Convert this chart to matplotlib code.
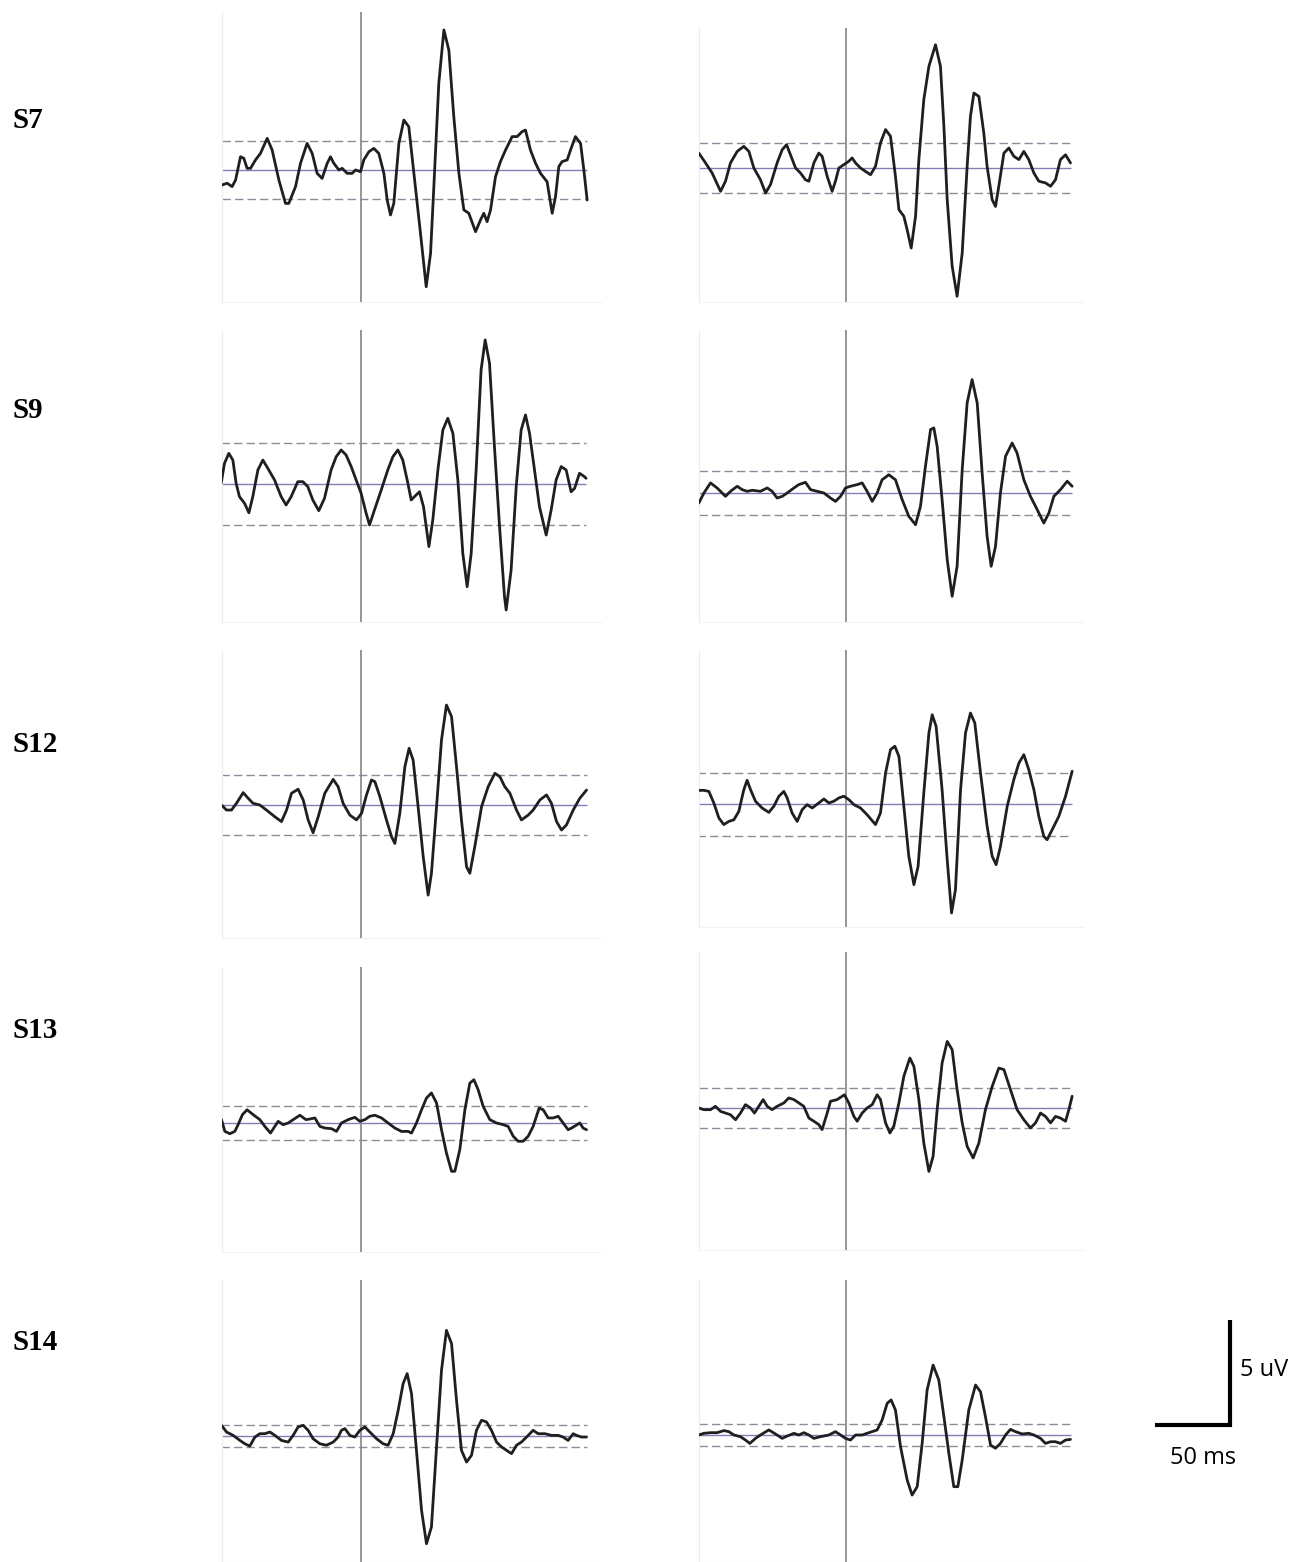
import numpy as np
import matplotlib.pyplot as plt

# --- data: (time ms, amplitude uV) ---
subjects = ["S7", "S9", "S12", "S13", "S14"]

s7_a = [(-92.2, -0.71), (-88.9, -0.63), (-85.6, -0.79), (-83.3, -0.48), (-80, 0.63), (-77.8, 0.56),
        (-75.6, 0.08), (-73.3, 0.08), (-70, 0.48), (-66.7, 0.79), (-62.2, 1.51), (-58.9, 0.95),
        (-54.4, -0.48), (-50, -1.59), (-47.8, -1.59), (-43.3, -0.79), (-40, 0.32), (-35.6, 1.27),
        (-32.2, 0.79), (-28.9, -0.16), (-25.6, -0.40), (-22.2, 0.32), (-20, 0.63), (-17.8, 0.32),
        (-14.4, 0), (-12.2, 0.08), (-8.9, -0.16), (-5.6, -0.16), (-3.3, 0), (0, -0.08), (2.2, 0.48),
        (5.6, 0.87), (8.9, 1.03), (12.2, 0.79), (15.6, -0.16), (17.8, -1.43), (20, -2.14),
        (22.2, -1.59), (25.6, 1.27), (28.9, 2.38), (32.2, 2.06), (35.6, -0.16), (40, -3.02),
        (43.8, -5.56), (46.7, -3.97), (48.9, -0.79), (52.2, 4.13), (55.6, 6.67), (58.9, 5.71),
        (62.2, 2.54), (65.6, -0.16), (68.9, -1.90), (72.2, -2.06), (76.7, -2.94), (80, -2.38),
        (82.2, -2.06), (84.4, -2.46), (86.7, -1.90), (90, -0.32), (93.3, 0.40), (96.7, 0.95),
        (101.1, 1.59), (104.4, 1.59), (107.8, 1.83), (110, 1.90), (113.3, 0.95), (116.7, 0.32),
        (120, -0.16), (124.4, -0.56), (127.8, -2.06), (130, -1.27), (132.2, 0.16), (134.4, 0.40),
        (137.8, 0.48), (140, 0.95), (143.3, 1.59), (146.7, 1.27), (148.9, 0), (151.1, -1.43)]

s7_b = [(-97.8, 0.71), (-93.3, 0.24), (-88.9, -0.24), (-83.3, -1.11), (-80, -0.63), (-76.7, 0.24),
        (-72.2, 0.79), (-67.8, 1.03), (-64.4, 0.79), (-61.1, 0), (-56.7, -0.56), (-53.3, -1.19),
        (-50, -0.79), (-45.6, 0.24), (-42.2, 0.87), (-39.3, 1.11), (-36.7, 0.63), (-33.3, 0),
        (-30, -0.24), (-26.7, -0.56), (-24.4, -0.63), (-21.1, 0.24), (-17.8, 0.71), (-15.6, 0.56),
        (-12.2, -0.40), (-8.9, -1.11), (-6.7, -0.63), (-4.4, 0), (-1.1, 0.16), (2.2, 0.32),
        (4.4, 0.48), (6.7, 0.24), (10, 0), (13.3, -0.16), (16.7, -0.32), (20, 0.08), (23.3, 1.19),
        (26.7, 1.83), (30, 1.51), (33.3, -0.40), (35.6, -1.98), (38.9, -2.30), (41.1, -2.94),
        (43.8, -3.81), (46.7, -2.30), (48.9, 0.40), (52.2, 3.25), (55.6, 4.84), (60, 5.87),
        (63.3, 4.84), (65.6, 1.98), (67.8, -1.51), (71.1, -4.68), (74.4, -6.11), (77.8, -4.05),
        (81.1, 0.08), (83.3, 2.46), (85.6, 3.57), (88.9, 3.41), (92.2, 1.67), (94.4, 0.08),
        (97.8, -1.51), (100, -1.83), (102.2, -0.87), (105.6, 0.71), (108.9, 0.95), (112.2, 0.56),
        (115.6, 0.40), (118.9, 0.79), (122.2, 0.40), (125.6, -0.24), (128.9, -0.63), (133.3, -0.71),
        (136.7, -0.87), (140, -0.56), (143.3, 0.40), (146.7, 0.63), (150, 0.24)]

s9_a = [(-92.9, 0.03), (-90.7, 0.98), (-87.8, 1.46), (-85.1, 1.14), (-82.9, 0.03), (-80.7, -0.60),
        (-77.3, -0.92), (-74.4, -1.37), (-71.8, -0.60), (-68.4, 0.67), (-65.1, 1.14), (-61.8, 0.75),
        (-57.3, 0.19), (-52.9, -0.60), (-49.6, -1.00), (-46.2, -0.60), (-41.8, 0.11), (-38.4, 0.11),
        (-35.1, -0.13), (-31.8, -0.76), (-27.8, -1.27), (-24, -0.68), (-19.6, 0.67), (-16.2, 1.30),
        (-12.9, 1.62), (-9.6, 1.38), (-6.2, 0.83), (-2.9, 0.19), (0.4, -0.44), (3.8, -1.40),
        (6, -1.95), (9.3, -1.24), (13.8, -0.29), (18.2, 0.67), (21.6, 1.30), (24.9, 1.62),
        (28.2, 1.14), (31.6, 0.03), (33.8, -0.76), (36, -0.60), (39.3, -0.37), (42, -1.08),
        (45.6, -2.98), (48.2, -1.71), (51.6, 0.67), (54.9, 2.57), (58.2, 3.13), (61.6, 2.41),
        (64.9, 0.19), (68.2, -3.30), (71.1, -4.89), (73.8, -3.30), (77.1, 0.67), (80.4, 5.43),
        (83.1, 6.86), (86, 5.75), (89.3, 1.78), (92.7, -2.03), (96, -5.37), (97.1, -6.0),
        (100.4, -4.10), (103.8, -0.13), (107.1, 2.57), (110, 3.29), (112.7, 2.41), (116, 0.67),
        (119.3, -1.08), (123.8, -2.43), (127.1, -1.24), (130.4, 0.19), (133.8, 0.83), (137.1, 0.67),
        (140.4, -0.37), (142.7, -0.21), (146, 0.51), (149.3, 0.35), (150.4, 0.27)]

s9_b = [(-97.8, -0.48), (-94.4, 0), (-90, 0.48), (-85.6, 0.24), (-80, -0.16), (-76.7, 0.08),
        (-72.2, 0.32), (-68.9, 0.16), (-65.6, 0.08), (-62.2, 0.13), (-56.7, 0.08), (-52.2, 0.24),
        (-48.9, 0.08), (-45.6, -0.24), (-42.2, -0.16), (-38.9, 0), (-34.4, 0.24), (-31.1, 0.40),
        (-26.7, 0.51), (-23.3, 0.16), (-18.9, 0.08), (-14.4, 0), (-10, -0.24), (-6.7, -0.40),
        (-3.3, -0.16), (0, 0.24), (3.3, 0.32), (7.8, 0.40), (11.1, 0.48), (14.4, 0.08),
        (17.8, -0.40), (21.1, 0), (24.4, 0.63), (28.9, 0.87), (33.3, 0.63), (37.8, -0.32),
        (42.2, -1.11), (46.7, -1.51), (50, -0.63), (53.3, 1.27), (56.7, 3.02), (58.9, 3.10),
        (61.1, 2.22), (64.4, -0.32), (67.8, -3.17), (71.1, -4.92), (74.4, -3.49), (77.8, 1.11),
        (81.1, 4.29), (84.4, 5.40), (87.8, 4.29), (91.1, 0.95), (94.4, -2.06), (97.1, -3.49),
        (100, -2.54), (103.3, 0), (106.7, 1.75), (111.1, 2.38), (114.4, 1.90), (118.9, 0.63),
        (123.3, -0.16), (127.8, -0.79), (132.2, -1.43), (135.6, -0.95), (138.9, -0.16),
        (143.3, 0.16), (147.8, 0.56), (151.1, 0.32)]

s12_a = [(-92.7, 0), (-89.3, -0.24), (-86, -0.24), (-82.7, 0.08), (-78.2, 0.59), (-74.9, 0.32),
         (-71.6, 0.08), (-67.1, 0), (-62.7, -0.24), (-57.1, -0.56), (-52.7, -0.79), (-49.3, -0.24),
         (-46, 0.56), (-41.6, 0.75), (-38.2, 0.24), (-34.9, -0.71), (-31.6, -1.32), (-28.2, -0.56),
         (-23.8, 0.56), (-18.2, 1.22), (-14.9, 0.87), (-11.6, 0.08), (-7.1, -0.48), (-2.7, -0.71),
         (0.7, -0.40), (4, 0.48), (7.3, 1.19), (9.6, 1.11), (12.9, 0.40), (17.3, -0.71),
         (20.7, -1.51), (22.9, -1.83), (26.2, -0.40), (29.6, 1.83), (32.4, 2.70), (35.1, 2.14),
         (38.4, -0.08), (41.8, -2.46), (45.1, -4.29), (47.3, -3.25), (50.7, -0.08), (54, 3.10),
         (57.3, 4.76), (60.7, 4.21), (64, 1.83), (67.3, -0.71), (70.7, -2.94), (72.9, -3.25),
         (76.2, -1.98), (80.7, -0.08), (85.1, 0.87), (89.6, 1.51), (92.9, 1.35), (96.2, 0.87),
         (99.6, 0.56), (104, -0.24), (107.3, -0.71), (111.8, -0.48), (115.1, -0.24), (119.6, 0.24),
         (124, 0.48), (127.3, 0.08), (130.7, -0.79), (134, -1.19), (137.3, -0.95), (141.8, -0.24),
         (146.2, 0.32), (150.7, 0.71)]

s12_b = [(-98.9, 0.65), (-94.4, 0.65), (-91.1, 0.60), (-87.8, 0.05), (-84.4, -0.67), (-81.1, -0.98),
         (-77.8, -0.83), (-74.4, -0.75), (-71.1, -0.35), (-67.8, 0.68), (-65.6, 1.13), (-63.3, 0.68),
         (-60, 0.13), (-55.6, -0.19), (-51.1, -0.40), (-47.8, -0.11), (-44.4, 0.37), (-41.1, 0.60),
         (-38.9, 0.29), (-35.6, -0.43), (-32.2, -0.83), (-28.9, -0.27), (-25.6, -0.03), (-22.2, -0.19),
         (-17.8, 0.05), (-14.4, 0.24), (-11.1, 0.05), (-7.8, 0.13), (-4.4, 0.29), (-1.1, 0.37),
         (2.2, 0.21), (5.6, -0.03), (10, -0.19), (14.4, -0.51), (20, -0.98), (23.3, -0.43),
         (26.7, 1.48), (30, 2.59), (32.9, 2.75), (35.6, 2.27), (38.9, -0.11), (42.2, -2.49),
         (45.6, -3.84), (48.4, -2.97), (52.2, 0.52), (55.6, 3.38), (57.8, 4.25), (60.4, 3.70),
         (64.4, 0.68), (67.8, -2.65), (70.7, -5.19), (73.3, -4.08), (76.7, 0.68), (80, 3.38),
         (83.3, 4.33), (86.2, 3.86), (90, 1.48), (94.4, -1.06), (97.8, -2.49), (100.4, -2.89),
         (103.3, -2.02), (107.8, -0.11), (112.2, 1.16), (115.6, 1.95), (118.9, 2.35), (122.2, 1.63),
         (125.6, 0.68), (128.9, -0.59), (132.2, -1.54), (134.4, -1.70), (137.8, -1.22),
         (142.2, -0.59), (146.7, 0.37), (151.1, 1.56)]

s13_a = [(-92.7, 0.16), (-90.4, -0.40), (-87.1, -0.51), (-83.8, -0.40), (-81.6, -0.08), (-78.7, 0.40),
         (-75.6, 0.63), (-71.6, 0.40), (-67.1, 0.16), (-63.8, -0.16), (-60, -0.48), (-57.1, -0.16),
         (-54.9, 0.08), (-51.6, -0.08), (-48.2, 0), (-44.9, 0.16), (-40.4, 0.37), (-36.4, 0.16),
         (-33.8, 0.19), (-30.4, 0.24), (-27.1, -0.16), (-23.8, -0.24), (-19.3, -0.27), (-16, -0.40),
         (-12.7, 0), (-8.2, 0.16), (-3.8, 0.27), (-0.4, 0.08), (2.9, 0.16), (6.2, 0.32), (9.6, 0.37),
         (14, 0.24), (18.4, 0), (22.9, -0.24), (27.3, -0.40), (31.8, -0.40), (34, -0.48), (37.3, 0),
         (40.7, 0.63), (44, 1.19), (47.3, 1.43), (50.7, 0.95), (54, -0.32), (57.3, -1.43),
         (60.7, -2.30), (62.9, -2.30), (66.2, -1.27), (69.6, 0.63), (72.9, 1.90), (75.6, 2.06),
         (78.4, 1.59), (81.8, 0.79), (86.2, 0.16), (90.7, 0), (95.1, -0.08), (98.4, -0.16),
         (101.8, -0.63), (105.1, -0.87), (108.4, -0.87), (111.8, -0.63), (115.1, -0.16), (119.1, 0.71),
         (121.8, 0.63), (125.1, 0.24), (128.4, 0.24), (131.8, 0.32), (135.1, 0), (138.4, -0.32),
         (140.7, -0.24), (144.4, -0.08), (146.2, 0), (148.4, -0.24), (150.7, -0.32)]

s13_b = [(-97.8, 0), (-94.4, -0.08), (-90, -0.08), (-86.7, 0.08), (-83.3, -0.16), (-80, -0.24),
         (-76.7, -0.32), (-73.3, -0.56), (-70, -0.24), (-66.7, 0.16), (-63.3, 0), (-60.7, -0.24),
         (-57.8, 0.08), (-54.9, 0.40), (-52.2, 0.08), (-48.9, -0.08), (-45.6, 0.08), (-41.1, 0.24),
         (-37.8, 0.48), (-34.4, 0.40), (-31.1, 0.24), (-27.8, 0.08), (-24.4, -0.48), (-21.1, -0.63),
         (-17.8, -0.79), (-15.6, -1.03), (-12.2, -0.24), (-10, 0.32), (-5.6, 0.40), (-2.2, 0.56),
         (-0.7, 0.63), (2.2, 0.24), (5.6, -0.40), (7.8, -0.63), (11.1, -0.24), (14.4, 0), (17.8, 0.16),
         (21.1, 0.63), (23.3, 0.40), (26.7, -0.71), (29.6, -1.19), (32.2, -0.87), (35.6, 0.24),
         (38.9, 1.51), (42.9, 2.38), (45.6, 1.98), (48.9, 0.40), (52.2, -1.67), (55.6, -3.02),
         (58.4, -2.30), (61.1, -0.08), (64.4, 2.14), (67.8, 3.17), (71.1, 2.78), (74.4, 0.87),
         (77.8, -0.71), (81.1, -1.83), (85.1, -2.38), (88.9, -1.67), (93.3, -0.08), (97.8, 1.03),
         (102.2, 1.90), (105.6, 1.83), (110, 0.87), (114.4, -0.08), (118.9, -0.56), (123.3, -0.95),
         (126.7, -0.71), (130, -0.24), (133.3, -0.40), (136.7, -0.71), (140, -0.40), (143.3, -0.48),
         (146.7, -0.63), (148.9, -0.08), (151.1, 0.56)]

s14_a = [(-92.7, 0.51), (-89.3, 0.19), (-84.9, 0.03), (-80.4, -0.21), (-77.1, -0.37), (-73.8, -0.48),
         (-70.4, -0.05), (-67.1, 0.11), (-63.8, 0.11), (-60.4, 0.19), (-57.1, 0.03), (-52.7, -0.21),
         (-48.2, -0.29), (-44.9, 0.03), (-41.6, 0.43), (-38.2, 0.51), (-34.9, 0.27), (-31.6, -0.13),
         (-27.1, -0.37), (-22.7, -0.44), (-18.2, -0.29), (-14.9, -0.05), (-12.7, 0.27), (-10.4, 0.35),
         (-7.1, 0.03), (-3.8, -0.05), (-0.4, 0.27), (2.9, 0.43), (6.2, 0.19), (10.7, -0.13),
         (15.1, -0.37), (18.4, -0.44), (21.8, 0.11), (25.1, 1.22), (28.4, 2.49), (31.1, 2.97),
         (34, 2.02), (37.3, -0.68), (40.7, -3.54), (44, -5.13), (47.3, -4.33), (50.7, -0.52),
         (54, 3.13), (57.3, 5.03), (60.7, 4.40), (64, 1.70), (67.3, -0.68), (70.7, -1.24),
         (74, -0.92), (77.3, 0.27), (80.7, 0.75), (84, 0.67), (87.3, 0.27), (90.7, -0.29),
         (94, -0.52), (97.3, -0.68), (100.7, -0.84), (104, -0.44), (107.3, -0.29), (110.7, -0.05),
         (115.1, 0.27), (118.4, 0.11), (122.9, 0.11), (127.3, 0.03), (131.8, 0.03), (135.1, -0.05),
         (138.4, -0.21), (141.8, 0.11), (144, 0.03), (147.3, -0.05), (150.7, -0.05)]

s14_b = [(-97.8, 0), (-94.4, 0.08), (-90, 0.11), (-85.6, 0.11), (-81.1, 0.21), (-77.8, 0.16),
         (-74.4, 0), (-70, -0.08), (-66.7, -0.24), (-63.8, -0.40), (-60, -0.16), (-55.6, 0.05),
         (-51.1, 0.24), (-46.7, 0.05), (-42.2, -0.16), (-38.9, -0.05), (-34.4, 0.08), (-31.1, 0),
         (-27.8, 0.11), (-24.4, 0), (-21.1, -0.16), (-16.7, -0.08), (-11.1, 0), (-6.7, 0.16),
         (-3.3, 0), (0, -0.16), (3.3, -0.24), (6.7, 0), (11.1, 0), (15.6, 0.11), (21.1, 0.24),
         (24.4, 0.71), (27.8, 1.51), (30.4, 1.67), (33.3, 1.19), (36.7, -0.56), (41.1, -2.14),
         (44.4, -2.86), (47.8, -2.46), (51.1, -0.40), (54.4, 2.14), (58.4, 3.33), (62.2, 2.62),
         (65.6, 0.87), (68.9, -0.87), (72.2, -2.46), (74.9, -2.46), (77.8, -1.19), (82.2, 1.19),
         (86.7, 2.38), (90, 2.06), (93.3, 0.87), (96.7, -0.48), (100, -0.63), (103.3, -0.40),
         (106.7, 0), (110, 0.27), (113.3, 0.16), (117.8, 0.05), (122.2, 0.08), (125.6, 0),
         (130, -0.16), (133.3, -0.40), (136.7, -0.32), (140, -0.32), (143.3, -0.40), (146.7, -0.24),
         (150, -0.21)]

left_traces = [s7_a, s9_a, s12_a, s13_a, s14_a]
right_traces = [s7_b, s9_b, s12_b, s13_b, s14_b]
thr_left = [1.38, 1.97, 1.43, 0.80, 0.54]
thr_right = [1.17, 1.05, 1.50, 0.93, 0.51]

# --- layout (pixels) ---
W, H = 1304, 1562
PX_MS = 1.5   # px per ms
PX_UV = 21.0  # px per uV

stim_x = [360.5, 845.5]
col_xlim = [(-92, 160), (-98, 158)]
# (top, bottom, baseline) per row, left / right column
rows_left = [(12, 302, 170), (330, 622, 484), (650, 938, 805), (967, 1252, 1123), (1280, 1562, 1436)]
rows_right = [(28, 302, 168), (330, 622, 493), (650, 927, 804), (952, 1250, 1108), (1280, 1562, 1435)]
label_y = [120, 410, 745, 1030, 1343]

fig = plt.figure(figsize=(W / 100, H / 100), dpi=100)


def add_panel(col, top, bottom, base):
    x0 = stim_x[col] + col_xlim[col][0] * PX_MS
    x1 = stim_x[col] + col_xlim[col][1] * PX_MS
    ax = fig.add_axes([x0 / W, 1 - bottom / H, (x1 - x0) / W, (bottom - top) / H])
    ax.set_xlim(col_xlim[col])
    ax.set_ylim(-(bottom - base) / PX_UV, (base - top) / PX_UV)
    ax.set_xticks([])
    ax.set_yticks([])
    for side in ["top", "right"]:
        ax.spines[side].set_visible(False)
    ax.spines["left"].set_color("#ececec")
    ax.spines["bottom"].set_color("#f3f3f3")
    return ax


def draw_trace(ax, trace, thr):
    t = [p[0] for p in trace]
    v = [p[1] for p in trace]
    ax.axvline(0, color="#8e8e8e", lw=1.3, zorder=1)
    ax.hlines(0, t[0], t[-1], color="#8080b8", lw=1.0, zorder=2)
    ax.hlines([thr, -thr], t[0], t[-1], colors="#8c8c9c", lw=1.0,
              linestyles=(0, (6, 3)), zorder=2)
    ax.plot(t, v, color="#1f1f1f", lw=2.0, solid_joinstyle="round",
            solid_capstyle="round", zorder=3)


for i, name in enumerate(subjects):
    axl = add_panel(0, *rows_left[i])
    draw_trace(axl, left_traces[i], thr_left[i])
    axr = add_panel(1, *rows_right[i])
    draw_trace(axr, right_traces[i], thr_right[i])
    fig.text(12 / W, 1 - label_y[i] / H, name, fontsize=21, fontweight="bold",
             family="Liberation Serif", ha="left", va="center")

# --- scale bar ---
corner_x, corner_y = 1230, 1425
bx0, bx1, by0, by1 = 1100, 1304, 1300, 1500
sax = fig.add_axes([bx0 / W, 1 - by1 / H, (bx1 - bx0) / W, (by1 - by0) / H])
sax.set_xlim((bx0 - corner_x) / PX_MS, (bx1 - corner_x) / PX_MS)
sax.set_ylim(-(by1 - corner_y) / PX_UV, (corner_y - by0) / PX_UV)
sax.axis("off")
sax.plot([-50, 0, 0], [0, 0, 5], color="black", lw=3.0, solid_joinstyle="miter",
         solid_capstyle="butt")
sax.text(6.5, 2.6, "5 uV", fontsize=17, family="Open Sans", ha="left", va="center")
sax.text(-18, -1.55, "50 ms", fontsize=17, family="Open Sans", ha="center", va="center")

fig.savefig("out.png", dpi=100, facecolor="white")
